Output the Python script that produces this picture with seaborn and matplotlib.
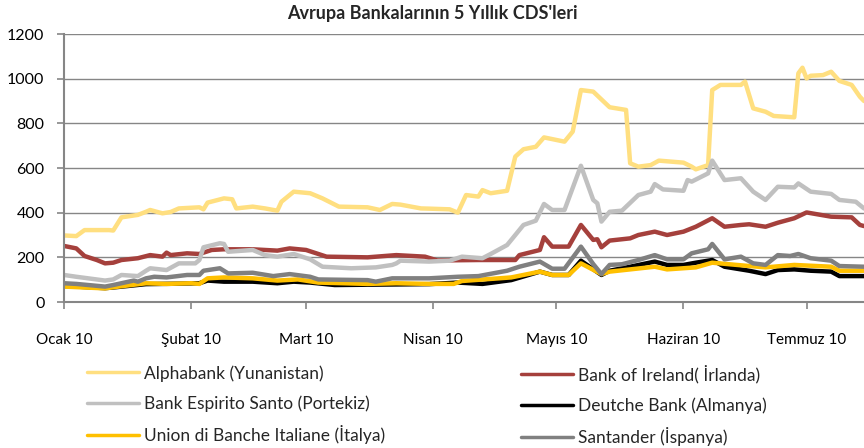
import pandas as pd
import matplotlib
matplotlib.use("Agg")
import matplotlib.pyplot as plt
import seaborn as sns

# =========================================================
# DATA (5y CDS in bps)
# =========================================================

alpha_dates = ["2010-01-01", "2010-01-04", "2010-01-06", "2010-01-12", "2010-01-13", "2010-01-15",
               "2010-01-19", "2010-01-21", "2010-01-22", "2010-01-25", "2010-01-27", "2010-01-29",
               "2010-02-03", "2010-02-04", "2010-02-05", "2010-02-09", "2010-02-11", "2010-02-12",
               "2010-02-16", "2010-02-19", "2010-02-22", "2010-02-23", "2010-02-26", "2010-03-02",
               "2010-03-05", "2010-03-09", "2010-03-16", "2010-03-19", "2010-03-22", "2010-03-24",
               "2010-03-29", "2010-03-31", "2010-04-05", "2010-04-07", "2010-04-09", "2010-04-12",
               "2010-04-13", "2010-04-15", "2010-04-19", "2010-04-21", "2010-04-23", "2010-04-26",
               "2010-04-28", "2010-05-03", "2010-05-05", "2010-05-07", "2010-05-10", "2010-05-14",
               "2010-05-18", "2010-05-19", "2010-05-21", "2010-05-24", "2010-05-26", "2010-06-01",
               "2010-06-03", "2010-06-04", "2010-06-07", "2010-06-08", "2010-06-10", "2010-06-15",
               "2010-06-16", "2010-06-18", "2010-06-21", "2010-06-23", "2010-06-28", "2010-06-29",
               "2010-06-30", "2010-07-01", "2010-07-02", "2010-07-05", "2010-07-07", "2010-07-09",
               "2010-07-12", "2010-07-14", "2010-07-15"]
alpha_vals = [298, 295, 322, 322, 320, 379,
              390, 404, 412, 397, 403, 419,
              424, 415, 445, 464, 460, 419,
              427, 419, 409, 449, 494, 487,
              464, 427, 424, 412, 439, 436,
              419, 418, 415, 400, 479, 472,
              501, 487, 498, 651, 684, 695,
              737, 718, 763, 949, 942, 872,
              860, 621, 606, 613, 633, 624,
              606, 594, 613, 949, 972, 972,
              987, 867, 852, 833, 827, 1024,
              1049, 1001, 1013, 1016, 1031, 990,
              972, 919, 900]

boi_dates = ["2010-01-01", "2010-01-04", "2010-01-06", "2010-01-09", "2010-01-11", "2010-01-13",
             "2010-01-15", "2010-01-19", "2010-01-22", "2010-01-25", "2010-01-26", "2010-01-27",
             "2010-01-31", "2010-02-03", "2010-02-06", "2010-02-09", "2010-02-16", "2010-02-22",
             "2010-02-25", "2010-03-01", "2010-03-06", "2010-03-16", "2010-03-23", "2010-03-30",
             "2010-04-02", "2010-04-12", "2010-04-21", "2010-04-22", "2010-04-27", "2010-04-28",
             "2010-04-30", "2010-05-04", "2010-05-07", "2010-05-10", "2010-05-11", "2010-05-12",
             "2010-05-14", "2010-05-19", "2010-05-21", "2010-05-25", "2010-05-28", "2010-06-01",
             "2010-06-04", "2010-06-08", "2010-06-11", "2010-06-15", "2010-06-17", "2010-06-21",
             "2010-06-24", "2010-06-28", "2010-07-01", "2010-07-07", "2010-07-12", "2010-07-14",
             "2010-07-15"]
boi_vals = [251, 240, 206, 188, 173, 176,
            188, 196, 210, 203, 221, 210,
            218, 215, 233, 236, 236, 230,
            240, 233, 203, 200, 210, 203,
            186, 188, 188, 210, 233, 290,
            248, 248, 345, 278, 281, 245,
            275, 285, 300, 315, 300, 315,
            337, 375, 337, 345, 348, 337,
            355, 375, 401, 382, 379, 345,
            340]

bes_dates = ["2010-01-01", "2010-01-04", "2010-01-11", "2010-01-13", "2010-01-15", "2010-01-19",
             "2010-01-21", "2010-01-22", "2010-01-26", "2010-01-29", "2010-02-02", "2010-02-03",
             "2010-02-04", "2010-02-08", "2010-02-09", "2010-02-10", "2010-02-16", "2010-02-19",
             "2010-02-22", "2010-02-26", "2010-03-02", "2010-03-05", "2010-03-12", "2010-03-18",
             "2010-03-22", "2010-03-23", "2010-03-24", "2010-03-31", "2010-04-05", "2010-04-08",
             "2010-04-13", "2010-04-15", "2010-04-19", "2010-04-23", "2010-04-26", "2010-04-28",
             "2010-04-30", "2010-05-03", "2010-05-07", "2010-05-10", "2010-05-11", "2010-05-12",
             "2010-05-14", "2010-05-17", "2010-05-21", "2010-05-24", "2010-05-25", "2010-05-27",
             "2010-06-01", "2010-06-02", "2010-06-03", "2010-06-07", "2010-06-08", "2010-06-11",
             "2010-06-15", "2010-06-18", "2010-06-21", "2010-06-24", "2010-06-28", "2010-06-29",
             "2010-07-02", "2010-07-07", "2010-07-09", "2010-07-13", "2010-07-15"]
bes_vals = [121, 113, 96, 101, 121, 116,
            140, 151, 143, 173, 173, 188,
            245, 263, 260, 225, 233, 210,
            203, 215, 191, 158, 151, 155,
            166, 173, 185, 181, 185, 203,
            196, 215, 255, 345, 364, 439,
            412, 412, 610, 457, 442, 360,
            404, 409, 479, 494, 528, 504,
            498, 546, 539, 576, 633, 546,
            554, 494, 457, 516, 513, 531,
            494, 484, 457, 449, 419]

db_dates = ["2010-01-01", "2010-01-11", "2010-01-13", "2010-01-21", "2010-01-29", "2010-02-03",
            "2010-02-05", "2010-02-09", "2010-02-16", "2010-02-22", "2010-02-26", "2010-03-02",
            "2010-03-08", "2010-03-31", "2010-04-07", "2010-04-13", "2010-04-20", "2010-04-27",
            "2010-04-30", "2010-05-04", "2010-05-07", "2010-05-12", "2010-05-14", "2010-05-19",
            "2010-05-25", "2010-05-28", "2010-06-01", "2010-06-04", "2010-06-08", "2010-06-11",
            "2010-06-17", "2010-06-21", "2010-06-24", "2010-06-28", "2010-07-02", "2010-07-07",
            "2010-07-09", "2010-07-15"]
db_vals = [72, 62, 65, 80, 82, 84,
           96, 91, 91, 84, 91, 87,
           76, 80, 87, 81, 98, 136,
           121, 121, 185, 121, 140, 158,
           181, 166, 166, 176, 188, 158,
           140, 125, 143, 146, 140, 136,
           116, 116]

ubi_dates = ["2010-01-01", "2010-01-11", "2010-01-13", "2010-01-21", "2010-01-26", "2010-02-01",
             "2010-02-03", "2010-02-05", "2010-02-09", "2010-02-16", "2010-02-22", "2010-02-27",
             "2010-03-04", "2010-03-16", "2010-03-23", "2010-03-31", "2010-04-06", "2010-04-08",
             "2010-04-20", "2010-04-27", "2010-04-30", "2010-05-04", "2010-05-07", "2010-05-12",
             "2010-05-14", "2010-05-19", "2010-05-25", "2010-05-28", "2010-06-04", "2010-06-08",
             "2010-06-14", "2010-06-21", "2010-06-28", "2010-07-07", "2010-07-09", "2010-07-15"]
ubi_vals = [69, 61, 66, 84, 81, 84,
            81, 106, 110, 106, 96, 101,
            87, 81, 84, 81, 81, 94,
            110, 136, 121, 121, 173, 125,
            136, 146, 158, 146, 155, 176,
            166, 155, 166, 158, 140, 140]

san_dates = ["2010-01-01", "2010-01-04", "2010-01-11", "2010-01-13", "2010-01-18", "2010-01-19",
             "2010-01-21", "2010-01-23", "2010-01-26", "2010-01-31", "2010-02-03", "2010-02-04",
             "2010-02-08", "2010-02-10", "2010-02-16", "2010-02-21", "2010-02-25", "2010-03-02",
             "2010-03-04", "2010-03-16", "2010-03-18", "2010-03-22", "2010-03-31", "2010-04-07",
             "2010-04-12", "2010-04-19", "2010-04-22", "2010-04-27", "2010-04-30", "2010-05-03",
             "2010-05-07", "2010-05-10", "2010-05-12", "2010-05-14", "2010-05-17", "2010-05-21",
             "2010-05-25", "2010-05-28", "2010-06-01", "2010-06-03", "2010-06-07", "2010-06-08",
             "2010-06-11", "2010-06-15", "2010-06-18", "2010-06-21", "2010-06-24", "2010-06-27",
             "2010-06-29", "2010-07-02", "2010-07-07", "2010-07-09", "2010-07-15"]
san_vals = [84, 81, 69, 76, 96, 91,
            106, 113, 110, 121, 121, 140,
            151, 128, 131, 116, 125, 113,
            101, 98, 91, 106, 106, 113,
            116, 140, 158, 181, 149, 149,
            248, 170, 125, 166, 169, 188,
            210, 191, 191, 218, 236, 260,
            191, 203, 173, 166, 210, 206,
            215, 196, 185, 161, 158]

series_names = ["Alphabank (Yunanistan)", "Bank of Ireland( İrlanda)",
                "Bank Espirito Santo (Portekiz)", "Deutche Bank (Almanya)",
                "Union di Banche Italiane (İtalya)", "Santander (İspanya)"]
series_colors = ["#FFDF80", "#A5403C", "#C0C0C0", "#000000", "#FFC000", "#808080"]

month_ticks = ["2010-01-01", "2010-02-01", "2010-03-01", "2010-04-01",
               "2010-05-01", "2010-06-01", "2010-07-01"]
month_labels = ["Ocak 10", "Şubat 10", "Mart 10", "Nisan 10",
                "Mayıs 10", "Haziran 10", "Temmuz 10"]

# =========================================================
# LONG FORMAT TABLE
# =========================================================

parts = []
for name, d, v in zip(series_names,
                      [alpha_dates, boi_dates, bes_dates, db_dates, ubi_dates, san_dates],
                      [alpha_vals, boi_vals, bes_vals, db_vals, ubi_vals, san_vals]):
    parts.append(pd.DataFrame({"date": pd.to_datetime(d), "cds": v, "bank": name}))
df = pd.concat(parts, ignore_index=True)

# =========================================================
# PLOT
# =========================================================

sns.set_style("white")
plt.rcParams['font.family'] = ['Lato', 'DejaVu Sans']

fig = plt.figure(figsize=(8.64, 4.48), dpi=100)
ax = fig.add_axes([64 / 864, 1 - 302 / 448, 1 - 64 / 864, 268 / 448])

sns.lineplot(
    data=df, x="date", y="cds", hue="bank",
    hue_order=series_names, palette=series_colors,
    linewidth=3.2, ax=ax, estimator=None, sort=True
)

handles, labels = ax.get_legend_handles_labels()
ax.get_legend().remove()

grid_col = "#868686"
ax.set_ylim(0, 1200)
ax.set_yticks(range(0, 1201, 200))
ax.set_xlim(pd.Timestamp("2010-01-01"), pd.Timestamp("2010-07-15"))
ax.set_xticks(pd.to_datetime(month_ticks))
ax.set_xticklabels(month_labels)

ax.set_xlabel("")
ax.set_ylabel("")

ax.yaxis.grid(True, color=grid_col, linewidth=1)
ax.xaxis.grid(False)
ax.set_axisbelow(True)

for side in ["top", "right"]:
    ax.spines[side].set_visible(False)
for side in ["left", "bottom"]:
    ax.spines[side].set_color(grid_col)
    ax.spines[side].set_linewidth(1.5)

ax.tick_params(axis="both", colors=grid_col, labelcolor="black", labelsize=11,
               length=5, width=1.2, direction="out")
ax.tick_params(axis="x", pad=17)
ax.tick_params(axis="y", pad=9, left=True, labelsize=11.5)
ax.tick_params(axis="x", bottom=True)

fig.suptitle("Avrupa Bankalarının 5 Yıllık CDS'leri", y=0.988,
             fontsize=13, fontweight="bold")

# legend: two columns, placed by hand
for cols, x0 in [((0, 2, 4), 80 / 864), ((1, 3, 5), 514 / 864)]:
    leg = fig.legend(
        [handles[i] for i in cols], [labels[i] for i in cols],
        loc="upper left", bbox_to_anchor=(x0, 1 - 358 / 448),
        frameon=False, fontsize=12.5, handlelength=3.0,
        labelspacing=0.78, handletextpad=0.3, borderaxespad=0
    )
    for line in leg.get_lines():
        line.set_linewidth(2.5)

fig.savefig("out.png", dpi=100)
